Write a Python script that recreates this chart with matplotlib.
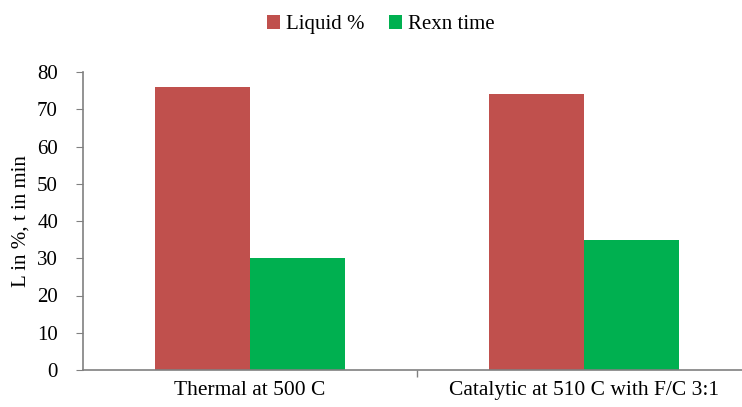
import numpy as np
from matplotlib import pyplot as plt

categories = ['Thermal at 500 C', 'Catalytic at 510 C with F/C 3:1']
liquid_pct = [76, 74]
rexn_time = [30, 35]
yticks = [0, 10, 20, 30, 40, 50, 60, 70, 80]

plt.rcParams['font.family'] = ['Liberation Serif', 'DejaVu Serif']

fig = plt.figure(figsize=(7.42, 4.07), dpi=100)
ax = fig.add_axes([83 / 742, 1 - 370 / 407, 668 / 742, 298 / 407])

x = np.arange(len(categories))
w = 0.285
ax.bar(x - w / 2, liquid_pct, w, color='#C0504D', label='Liquid %')
ax.bar(x + w / 2, rexn_time, w, color='#00B050', label='Rexn time')

ax.set_xlim(-0.5, 1.5)
ax.set_ylim(0, 80)
ax.set_yticks(yticks)
ax.set_xticks(x)
ax.set_xticklabels(categories, fontsize=15.5)
ax.set_xticks([0.5], minor=True)
ax.tick_params(axis='x', which='major', length=0, pad=8)
ax.tick_params(axis='x', which='minor', length=5, color='#808080', width=1)
ax.tick_params(axis='y', labelsize=15, length=5, color='#808080', pad=13)
ax.set_ylabel('L in %, t in min', fontsize=15, labelpad=5)

for s in ['top', 'right']:
    ax.spines[s].set_visible(False)
for s in ['left', 'bottom']:
    ax.spines[s].set_color('#808080')
    ax.spines[s].set_linewidth(1.2)

fig.legend(loc='upper center', bbox_to_anchor=(381 / 742, 1.01), ncol=2, frameon=False,
           fontsize=15, handlelength=0.6, handleheight=0.7, handletextpad=0.3,
           columnspacing=1.2)

fig.savefig('out.png', dpi=100)
